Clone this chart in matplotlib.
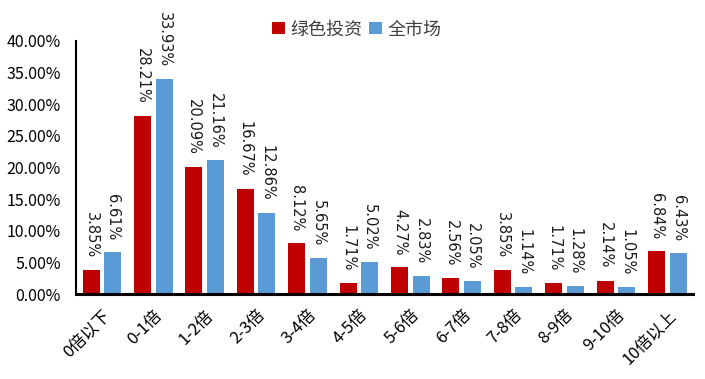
import matplotlib
matplotlib.use("Agg")
import matplotlib.pyplot as plt
import numpy as np
from matplotlib.ticker import FuncFormatter

plt.rcParams['font.family'] = ['Noto Sans CJK SC', 'DejaVu Sans']

categories = ["0倍以下", "0-1倍", "1-2倍", "2-3倍", "3-4倍", "4-5倍", "5-6倍",
              "6-7倍", "7-8倍", "8-9倍", "9-10倍", "10倍以上"]
green = [3.85, 28.21, 20.09, 16.67, 8.12, 1.71, 4.27, 2.56, 3.85, 1.71, 2.14, 6.84]
market = [6.61, 33.93, 21.16, 12.86, 5.65, 5.02, 2.83, 2.05, 1.14, 1.28, 1.05, 6.43]
series_names = ["绿色投资", "全市场"]
colors = ["#C00000", "#5B9BD5"]

fig = plt.figure(figsize=(7.05, 3.79), dpi=100)
ax = fig.add_axes([0.108, 0.224, 0.875, 0.668])

x = np.arange(len(categories))
w = 0.33
off = 0.21
for vals, name, c, o in [(green, series_names[0], colors[0], -off),
                         (market, series_names[1], colors[1], off)]:
    bars = ax.bar(x + o, vals, width=w, color=c, label=name)
    for b, v in zip(bars, vals):
        ax.annotate(f"{v:.2f}%", (b.get_x() + b.get_width() / 2, b.get_height()),
                    xytext=(0, 8.5), textcoords="offset points",
                    rotation=270, ha="center", va="bottom", fontsize=10.5,
                    color="#1a1a1a", family=["DejaVu Sans"])

ax.set_xlim(-0.5, len(categories) - 0.5)
ax.set_ylim(0, 40)
ax.set_yticks(np.arange(0, 41, 5))
ax.yaxis.set_major_formatter(FuncFormatter(lambda v, p: f"{v:.2f}%"))
ax.tick_params(axis='y', length=0, labelsize=11.5, pad=11)
ax.set_xticks(x)
ax.set_xticklabels(categories, rotation=45, ha="right", rotation_mode="anchor",
                   fontsize=12)
ax.tick_params(axis='x', length=0, pad=9)
for s in ["top", "right"]:
    ax.spines[s].set_visible(False)
ax.spines["left"].set_linewidth(1.5)
ax.spines["bottom"].set_linewidth(2.2)

leg = ax.legend(loc="upper center", bbox_to_anchor=(0.455, 1.145), ncol=2,
                frameon=False, fontsize=13, handlelength=0.7, handleheight=0.7,
                handletextpad=0.3, columnspacing=0.4)
for t in leg.get_texts():
    t.set_color("#404040")

fig.savefig("out.png", dpi=100)
